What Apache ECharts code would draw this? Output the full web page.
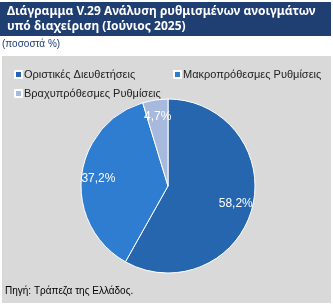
<!DOCTYPE html>
<html><head><meta charset="utf-8">
<script src="https://cdn.jsdelivr.net/npm/echarts@6/dist/echarts.min.js"></script>
<style>html,body{margin:0;padding:0;background:#fff}#c{width:333px;height:306px}</style>
</head><body><div id="c"></div>
<script>
const categories = ['Οριστικές Διευθετήσεις', 'Μακροπρόθεσμες Ρυθμίσεις', 'Βραχυπρόθεσμες Ρυθμίσεις'];
const values = [58.2, 37.2, 4.7];
const colors = ['#2566AE', '#2F7DD0', '#A8B9DE'];
const titleLines = ['Διάγραμμα V.29 Ανάλυση ρυθμισμένων ανοιγμάτων', 'υπό διαχείριση (Ιούνιος 2025)'];
const subtitle = '(ποσοστά %)';
const source = 'Πηγή: Τράπεζα της Ελλάδος.';

const ctx = document.createElement('canvas').getContext('2d');
function fit(text, family, weight, target, start) {
  let s = start;
  for (; s > 8; s -= 0.25) {
    ctx.font = weight + ' ' + s + 'px ' + family;
    if (ctx.measureText(text).width <= target) break;
  }
  return s;
}
const ts = fit(titleLines[0], '"Noto Sans"', 'bold', 311, 15);
const ls = fit(categories[1], '"Liberation Sans"', 'normal', 140, 13);

const chart = echarts.init(document.getElementById('c'), null, {renderer: 'canvas'});
const pieData = categories.map((n, i) => ({name: n, value: values[i], itemStyle: {color: colors[i]}}));
const legendText = {fontFamily: 'Liberation Sans', fontSize: ls, color: '#222', padding: [0, 0, 0, -3]};
chart.setOption({
  animation: false,
  graphic: [
    {type: 'rect', shape: {x: 0, y: 2, width: 331, height: 34}, style: {fill: '#1F3E72'}, z: -10},
    {type: 'rect', shape: {x: 2, y: 56, width: 329, height: 247}, style: {fill: '#D9D9D9'}, z: -10},
    {type: 'text', left: 7, top: 4, style: {text: titleLines.join('\n'), fill: '#fff', fontFamily: 'Noto Sans', fontWeight: 'bold', fontSize: ts, lineHeight: 15}},
    {type: 'text', left: 2, top: 39, style: {text: subtitle, fill: '#1F3E72', fontFamily: 'Liberation Sans', fontSize: 10}},
    {type: 'text', left: 5, top: 286, style: {text: source, fill: '#000', fontFamily: 'Liberation Sans', fontSize: 10}}
  ],
  legend: [{
    data: [categories[0], categories[2]],
    orient: 'vertical', left: 14, top: 69,
    itemWidth: 7, itemHeight: 7, itemGap: 8, icon: 'rect',
    textStyle: legendText, padding: 0
  }, {
    data: [categories[1]],
    orient: 'vertical', left: 173, top: 69,
    itemWidth: 7, itemHeight: 7, itemGap: 8, icon: 'rect',
    textStyle: legendText, padding: 0
  }],
  series: [{
    type: 'pie',
    center: [168, 186],
    radius: [0, 87],
    startAngle: 90,
    clockwise: true,
    data: pieData,
    itemStyle: {borderColor: '#fff', borderWidth: 1},
    label: {show: false},
    labelLine: {show: false}
  }, {
    type: 'pie',
    center: [168, 186],
    radius: [0, 134],
    startAngle: 90,
    clockwise: true,
    silent: true,
    data: pieData.map(d => ({name: d.name, value: d.value, itemStyle: {color: 'rgba(0,0,0,0)'}})),
    itemStyle: {borderWidth: 0},
    label: {
      show: true, position: 'inside', color: '#fff',
      fontFamily: 'Liberation Sans', fontSize: 12,
      formatter: p => p.value.toFixed(1).replace('.', ',') + '%'
    },
    labelLine: {show: false}
  }]
});
</script></body></html>
